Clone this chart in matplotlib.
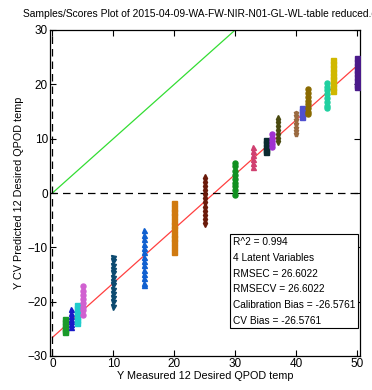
import matplotlib
matplotlib.use('Agg')
import matplotlib.pyplot as plt

plt.rcParams['font.family'] = ['Liberation Sans', 'DejaVu Sans']

# measured value of each class and the cross-validated predictions
meas = [2, 3, 4, 5, 10, 15, 20, 25, 30, 33, 35, 36, 37, 40, 41, 42, 45, 46, 50]
pred = [
    [-23.2, -23.8, -24.3, -24.8, -25.2, -25.6],
    [-21.4, -22.0, -22.6, -23.1, -23.6, -24.1, -24.6],
    [-20.6, -21.1, -21.7, -22.3, -22.8, -23.4, -23.9],
    [-17.2, -18.0, -18.8, -19.5, -20.2, -20.9, -21.6, -22.4],
    [-11.9, -12.6, -13.4, -14.1, -14.8, -15.6, -16.3, -17.0, -17.8, -18.5, -19.3, -20.1, -21.0],
    [-6.9, -7.7, -8.5, -9.3, -10.1, -10.9, -11.7, -12.5, -13.3, -14.1, -14.9, -15.7, -16.5, -16.9],
    [-1.9, -2.7, -3.5, -4.3, -5.1, -5.9, -6.7, -7.5, -8.3, -9.1, -9.9, -10.8],
    [2.8, 2.1, 1.3, 0.6, -0.2, -1.0, -1.7, -2.5, -3.3, -4.0, -4.8, -5.6],
    [5.6, 4.9, 4.1, 3.4, 2.6, 1.9, 1.2, 0.5, -0.3],
    [8.4, 7.7, 7.0, 6.3, 5.6, 4.8],
    [9.8, 9.2, 8.5, 7.9, 7.5],
    [10.9, 10.2, 9.6, 9.0, 8.4],
    [13.7, 13.0, 12.3, 11.6, 10.9, 10.2, 9.5],
    [14.8, 14.1, 13.4, 12.7, 12.0, 11.4, 10.8],
    [15.7, 15.1, 14.5, 13.9],
    [19.1, 18.4, 17.7, 17.0, 16.3, 15.6, 14.9, 14.5],
    [20.3, 19.6, 18.9, 18.2, 17.5, 16.8, 16.1, 15.6],
    [24.4, 23.7, 23.0, 22.3, 21.6, 20.9, 20.2, 19.5, 18.7],
    [24.8, 24.1, 23.4, 22.7, 22.0, 21.3, 20.6, 19.9, 19.6],
]
colors = ['#1a9a2a', '#1818c8', '#20cccc', '#d060d0', '#0c4a70', '#1060d0',
          '#d07a10', '#6a1a0a', '#109020', '#d04070', '#0a2a30', '#a030d0',
          '#4a4a10', '#9a6a40', '#5050d0', '#8a6a00', '#20d0a0', '#d0b800', '#4a1a8a']
marks = ['s', '^', 's', 'o', 'v', '^', 's', 'd', 'o', '^', 's', 'o',
         'd', 'p', 's', 'o', 'o', 's', 's']

fit_x = [0, 50]
fit_y = [-26.58, 23.42]
ideal = [0, 30]

stats = ['R^2 = 0.994', '4 Latent Variables', 'RMSEC = 26.6022',
         'RMSECV = 26.6022', 'Calibration Bias = -26.5761', 'CV Bias = -26.5761']

fig = plt.figure(figsize=(3.72, 3.90), dpi=100)
ax = fig.add_axes([50/372, 1-356/390, 310/372, 326/390])

ax.plot(ideal, ideal, color='#33dd33', lw=0.9, zorder=1)
ax.plot(fit_x, fit_y, color='#ff4040', lw=0.9, zorder=1)
ax.axhline(0, color='k', ls=(0, (6, 4)), lw=0.9, zorder=1)
ax.axvline(0, color='k', ls=(0, (6, 4)), lw=0.9, zorder=1)

for x, ys, c, m in zip(meas, pred, colors, marks):
    ax.plot([x]*len(ys), ys, ls='none', marker=m, ms=3.6, mfc=c, mec=c, zorder=3)

ax.set_xlim(-0.4, 50.5)
ax.set_ylim(-30, 30)
ax.set_xticks([0, 10, 20, 30, 40, 50])
ax.set_yticks([-30, -20, -10, 0, 10, 20, 30])
ax.tick_params(direction='in', top=True, right=True, length=4, width=0.8,
               labelsize=8.5, pad=1.5)
for s in ax.spines.values():
    s.set_linewidth(0.9)

ax.set_xlabel('Y Measured 12 Desired QPOD temp', fontsize=7.8, labelpad=1)
ax.set_ylabel('Y CV Predicted 12 Desired QPOD temp', fontsize=7.8, labelpad=3)
fig.text(23/372, 1-14/390, 'Samples/Scores Plot of 2015-04-09-WA-FW-NIR-N01-GL-WL-table reduced.csv',
         fontsize=7.4, ha='left', va='center')

ax.text(0.59, 0.365, '\n'.join(stats), transform=ax.transAxes, fontsize=7.3,
        va='top', ha='left', linespacing=1.72,
        bbox=dict(boxstyle='square,pad=0.25', fc='white', ec='k', lw=0.8))

fig.savefig('out.png', dpi=100)
